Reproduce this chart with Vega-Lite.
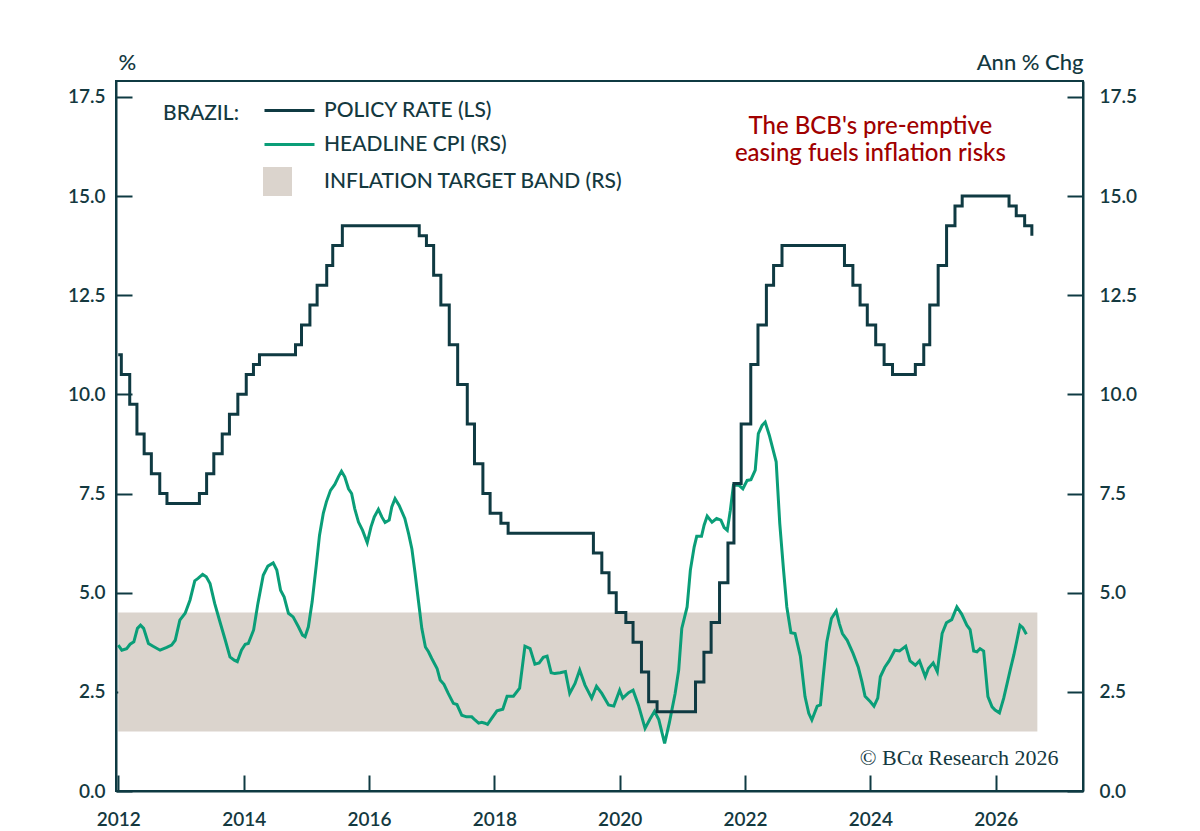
{
  "$schema": "https://vega.github.io/schema/vega-lite/v6.json",
  "width": 967,
  "height": 710,
  "autosize": {"type": "none"},
  "padding": {"left": 116, "top": 81, "right": 117, "bottom": 40},
  "background": "white",
  "config": {
    "font": "Lato",
    "view": {"stroke": "#0f3a42", "strokeWidth": 2},
    "axis": {
      "labelFont": "Lato",
      "labelFontSize": 19,
      "labelFontWeight": 600,
      "labelColor": "#14393f",
      "domainColor": "#0f3a42",
      "domainWidth": 2,
      "tickColor": "#0f3a42",
      "tickWidth": 2,
      "tickSize": -16,
      "grid": false,
      "titleFont": "Lato",
      "titleFontSize": 22,
      "titleFontWeight": 500,
      "titleColor": "#14393f"
    }
  },
  "datasets": {
    "policy": [
      {"date": "2012-01-01", "rate": 11.0},
      {"date": "2012-01-19", "rate": 10.5},
      {"date": "2012-03-08", "rate": 9.75},
      {"date": "2012-04-19", "rate": 9.0},
      {"date": "2012-05-31", "rate": 8.5},
      {"date": "2012-07-12", "rate": 8.0},
      {"date": "2012-08-30", "rate": 7.5},
      {"date": "2012-10-11", "rate": 7.25},
      {"date": "2013-04-18", "rate": 7.5},
      {"date": "2013-05-30", "rate": 8.0},
      {"date": "2013-07-11", "rate": 8.5},
      {"date": "2013-08-29", "rate": 9.0},
      {"date": "2013-10-10", "rate": 9.5},
      {"date": "2013-11-28", "rate": 10.0},
      {"date": "2014-01-16", "rate": 10.5},
      {"date": "2014-02-27", "rate": 10.75},
      {"date": "2014-04-03", "rate": 11.0},
      {"date": "2014-10-30", "rate": 11.25},
      {"date": "2014-12-04", "rate": 11.75},
      {"date": "2015-01-22", "rate": 12.25},
      {"date": "2015-03-05", "rate": 12.75},
      {"date": "2015-04-30", "rate": 13.25},
      {"date": "2015-06-04", "rate": 13.75},
      {"date": "2015-07-30", "rate": 14.25},
      {"date": "2016-10-20", "rate": 14.0},
      {"date": "2016-12-01", "rate": 13.75},
      {"date": "2017-01-12", "rate": 13.0},
      {"date": "2017-02-23", "rate": 12.25},
      {"date": "2017-04-13", "rate": 11.25},
      {"date": "2017-06-01", "rate": 10.25},
      {"date": "2017-07-27", "rate": 9.25},
      {"date": "2017-09-07", "rate": 8.25},
      {"date": "2017-10-26", "rate": 7.5},
      {"date": "2017-12-07", "rate": 7.0},
      {"date": "2018-02-08", "rate": 6.75},
      {"date": "2018-03-22", "rate": 6.5},
      {"date": "2019-08-01", "rate": 6.0},
      {"date": "2019-09-19", "rate": 5.5},
      {"date": "2019-10-31", "rate": 5.0},
      {"date": "2019-12-12", "rate": 4.5},
      {"date": "2020-02-06", "rate": 4.25},
      {"date": "2020-03-19", "rate": 3.75},
      {"date": "2020-05-07", "rate": 3.0},
      {"date": "2020-06-18", "rate": 2.25},
      {"date": "2020-08-06", "rate": 2.0},
      {"date": "2021-03-18", "rate": 2.75},
      {"date": "2021-05-06", "rate": 3.5},
      {"date": "2021-06-17", "rate": 4.25},
      {"date": "2021-08-05", "rate": 5.25},
      {"date": "2021-09-23", "rate": 6.25},
      {"date": "2021-10-28", "rate": 7.75},
      {"date": "2021-12-09", "rate": 9.25},
      {"date": "2022-02-03", "rate": 10.75},
      {"date": "2022-03-17", "rate": 11.75},
      {"date": "2022-05-05", "rate": 12.75},
      {"date": "2022-06-16", "rate": 13.25},
      {"date": "2022-08-04", "rate": 13.75},
      {"date": "2023-08-03", "rate": 13.25},
      {"date": "2023-09-21", "rate": 12.75},
      {"date": "2023-11-02", "rate": 12.25},
      {"date": "2023-12-14", "rate": 11.75},
      {"date": "2024-02-01", "rate": 11.25},
      {"date": "2024-03-21", "rate": 10.75},
      {"date": "2024-05-09", "rate": 10.5},
      {"date": "2024-09-19", "rate": 10.75},
      {"date": "2024-11-07", "rate": 11.25},
      {"date": "2024-12-12", "rate": 12.25},
      {"date": "2025-01-30", "rate": 13.25},
      {"date": "2025-03-20", "rate": 14.25},
      {"date": "2025-05-08", "rate": 14.75},
      {"date": "2025-06-19", "rate": 15.0},
      {"date": "2026-03-19", "rate": 14.75},
      {"date": "2026-04-30", "rate": 14.5},
      {"date": "2026-06-18", "rate": 14.25},
      {"date": "2026-07-30", "rate": 14.0}
    ],
    "cpi": [
      {"date": "2012-01-01", "cpi": 3.68},
      {"date": "2012-01-22", "cpi": 3.55},
      {"date": "2012-02-19", "cpi": 3.59},
      {"date": "2012-03-10", "cpi": 3.70},
      {"date": "2012-04-01", "cpi": 3.76},
      {"date": "2012-04-22", "cpi": 4.10},
      {"date": "2012-05-10", "cpi": 4.18},
      {"date": "2012-05-28", "cpi": 4.10},
      {"date": "2012-06-25", "cpi": 3.72},
      {"date": "2012-07-22", "cpi": 3.65},
      {"date": "2012-09-01", "cpi": 3.55},
      {"date": "2012-10-10", "cpi": 3.62},
      {"date": "2012-11-07", "cpi": 3.68},
      {"date": "2012-11-28", "cpi": 3.80},
      {"date": "2012-12-25", "cpi": 4.31},
      {"date": "2013-01-25", "cpi": 4.48},
      {"date": "2013-02-22", "cpi": 4.81},
      {"date": "2013-03-22", "cpi": 5.30},
      {"date": "2013-04-10", "cpi": 5.36},
      {"date": "2013-05-07", "cpi": 5.46},
      {"date": "2013-05-28", "cpi": 5.40},
      {"date": "2013-06-19", "cpi": 5.23},
      {"date": "2013-07-16", "cpi": 4.73},
      {"date": "2013-08-16", "cpi": 4.26},
      {"date": "2013-09-16", "cpi": 3.80},
      {"date": "2013-10-13", "cpi": 3.38},
      {"date": "2013-11-07", "cpi": 3.30},
      {"date": "2013-11-25", "cpi": 3.26},
      {"date": "2013-12-19", "cpi": 3.55},
      {"date": "2014-01-10", "cpi": 3.70},
      {"date": "2014-01-28", "cpi": 3.72},
      {"date": "2014-02-28", "cpi": 4.06},
      {"date": "2014-03-25", "cpi": 4.73},
      {"date": "2014-04-25", "cpi": 5.44},
      {"date": "2014-05-22", "cpi": 5.67},
      {"date": "2014-06-22", "cpi": 5.75},
      {"date": "2014-07-13", "cpi": 5.57},
      {"date": "2014-08-04", "cpi": 5.06},
      {"date": "2014-08-25", "cpi": 4.89},
      {"date": "2014-09-19", "cpi": 4.48},
      {"date": "2014-10-16", "cpi": 4.39},
      {"date": "2014-11-16", "cpi": 4.14},
      {"date": "2014-12-10", "cpi": 3.93},
      {"date": "2014-12-25", "cpi": 3.89},
      {"date": "2015-01-13", "cpi": 4.14},
      {"date": "2015-02-04", "cpi": 4.77},
      {"date": "2015-02-28", "cpi": 5.69},
      {"date": "2015-03-19", "cpi": 6.45},
      {"date": "2015-04-10", "cpi": 7.00},
      {"date": "2015-04-28", "cpi": 7.29},
      {"date": "2015-05-22", "cpi": 7.58},
      {"date": "2015-06-16", "cpi": 7.73},
      {"date": "2015-07-07", "cpi": 7.92},
      {"date": "2015-07-25", "cpi": 8.06},
      {"date": "2015-08-13", "cpi": 7.92},
      {"date": "2015-09-04", "cpi": 7.62},
      {"date": "2015-09-22", "cpi": 7.50},
      {"date": "2015-10-10", "cpi": 7.12},
      {"date": "2015-11-01", "cpi": 6.78},
      {"date": "2015-11-25", "cpi": 6.57},
      {"date": "2015-12-22", "cpi": 6.26},
      {"date": "2016-01-13", "cpi": 6.66},
      {"date": "2016-02-01", "cpi": 6.91},
      {"date": "2016-02-25", "cpi": 7.10},
      {"date": "2016-03-16", "cpi": 6.91},
      {"date": "2016-04-04", "cpi": 6.77},
      {"date": "2016-04-28", "cpi": 6.83},
      {"date": "2016-05-13", "cpi": 7.16},
      {"date": "2016-06-01", "cpi": 7.37},
      {"date": "2016-06-25", "cpi": 7.20},
      {"date": "2016-07-28", "cpi": 6.87},
      {"date": "2016-08-19", "cpi": 6.49},
      {"date": "2016-09-07", "cpi": 6.11},
      {"date": "2016-09-25", "cpi": 5.52},
      {"date": "2016-10-16", "cpi": 4.77},
      {"date": "2016-11-04", "cpi": 4.10},
      {"date": "2016-11-25", "cpi": 3.63},
      {"date": "2016-12-13", "cpi": 3.51},
      {"date": "2017-01-01", "cpi": 3.34},
      {"date": "2017-02-01", "cpi": 3.09},
      {"date": "2017-02-19", "cpi": 2.80},
      {"date": "2017-03-13", "cpi": 2.69},
      {"date": "2017-04-07", "cpi": 2.46},
      {"date": "2017-05-07", "cpi": 2.21},
      {"date": "2017-05-28", "cpi": 2.18},
      {"date": "2017-06-25", "cpi": 1.91},
      {"date": "2017-07-22", "cpi": 1.87},
      {"date": "2017-08-22", "cpi": 1.87},
      {"date": "2017-09-10", "cpi": 1.79},
      {"date": "2017-10-01", "cpi": 1.71},
      {"date": "2017-10-19", "cpi": 1.73},
      {"date": "2017-11-07", "cpi": 1.71},
      {"date": "2017-11-22", "cpi": 1.68},
      {"date": "2017-12-16", "cpi": 1.83},
      {"date": "2018-01-16", "cpi": 2.02},
      {"date": "2018-02-19", "cpi": 2.06},
      {"date": "2018-03-16", "cpi": 2.39},
      {"date": "2018-04-22", "cpi": 2.39},
      {"date": "2018-05-28", "cpi": 2.59},
      {"date": "2018-06-28", "cpi": 3.65},
      {"date": "2018-07-28", "cpi": 3.59},
      {"date": "2018-08-25", "cpi": 3.20},
      {"date": "2018-09-19", "cpi": 3.23},
      {"date": "2018-10-13", "cpi": 3.37},
      {"date": "2018-11-04", "cpi": 3.40},
      {"date": "2018-11-28", "cpi": 2.98},
      {"date": "2018-12-19", "cpi": 2.96},
      {"date": "2019-01-19", "cpi": 2.98},
      {"date": "2019-02-19", "cpi": 3.01},
      {"date": "2019-03-16", "cpi": 2.46},
      {"date": "2019-04-16", "cpi": 2.71},
      {"date": "2019-05-13", "cpi": 3.05},
      {"date": "2019-06-13", "cpi": 2.67},
      {"date": "2019-07-22", "cpi": 2.34},
      {"date": "2019-08-19", "cpi": 2.64},
      {"date": "2019-09-19", "cpi": 2.46},
      {"date": "2019-10-28", "cpi": 2.17},
      {"date": "2019-11-28", "cpi": 2.14},
      {"date": "2020-01-01", "cpi": 2.54},
      {"date": "2020-01-19", "cpi": 2.34},
      {"date": "2020-02-22", "cpi": 2.48},
      {"date": "2020-03-19", "cpi": 2.54},
      {"date": "2020-04-19", "cpi": 2.17},
      {"date": "2020-05-28", "cpi": 1.58},
      {"date": "2020-06-25", "cpi": 1.81},
      {"date": "2020-07-22", "cpi": 2.01},
      {"date": "2020-08-16", "cpi": 1.80},
      {"date": "2020-09-19", "cpi": 1.20},
      {"date": "2020-10-16", "cpi": 1.71},
      {"date": "2020-11-19", "cpi": 2.45},
      {"date": "2020-12-10", "cpi": 3.05},
      {"date": "2020-12-28", "cpi": 4.10},
      {"date": "2021-01-28", "cpi": 4.64},
      {"date": "2021-02-16", "cpi": 5.57},
      {"date": "2021-03-10", "cpi": 6.15},
      {"date": "2021-03-25", "cpi": 6.42},
      {"date": "2021-04-22", "cpi": 6.42},
      {"date": "2021-05-07", "cpi": 6.70},
      {"date": "2021-05-25", "cpi": 6.93},
      {"date": "2021-06-22", "cpi": 6.78},
      {"date": "2021-07-19", "cpi": 6.87},
      {"date": "2021-08-13", "cpi": 6.83},
      {"date": "2021-09-01", "cpi": 6.64},
      {"date": "2021-09-19", "cpi": 6.57},
      {"date": "2021-10-07", "cpi": 7.08},
      {"date": "2021-10-25", "cpi": 7.71},
      {"date": "2021-11-25", "cpi": 7.71},
      {"date": "2021-12-19", "cpi": 7.62},
      {"date": "2022-01-13", "cpi": 7.83},
      {"date": "2022-02-04", "cpi": 7.85},
      {"date": "2022-03-01", "cpi": 8.09},
      {"date": "2022-03-19", "cpi": 9.01},
      {"date": "2022-04-10", "cpi": 9.22},
      {"date": "2022-04-28", "cpi": 9.30},
      {"date": "2022-05-22", "cpi": 8.97},
      {"date": "2022-07-01", "cpi": 8.30},
      {"date": "2022-07-22", "cpi": 6.74},
      {"date": "2022-08-13", "cpi": 5.57},
      {"date": "2022-09-01", "cpi": 4.64},
      {"date": "2022-09-25", "cpi": 3.99},
      {"date": "2022-10-19", "cpi": 3.97},
      {"date": "2022-11-19", "cpi": 3.40},
      {"date": "2022-12-16", "cpi": 2.38},
      {"date": "2023-01-07", "cpi": 1.96},
      {"date": "2023-01-25", "cpi": 1.79},
      {"date": "2023-02-25", "cpi": 2.14},
      {"date": "2023-03-16", "cpi": 2.17},
      {"date": "2023-04-01", "cpi": 2.88},
      {"date": "2023-04-22", "cpi": 3.76},
      {"date": "2023-05-19", "cpi": 4.35},
      {"date": "2023-06-16", "cpi": 4.54},
      {"date": "2023-07-04", "cpi": 4.22},
      {"date": "2023-07-22", "cpi": 3.97},
      {"date": "2023-08-19", "cpi": 3.80},
      {"date": "2023-09-22", "cpi": 3.47},
      {"date": "2023-10-22", "cpi": 3.13},
      {"date": "2023-11-13", "cpi": 2.75},
      {"date": "2023-12-01", "cpi": 2.39},
      {"date": "2024-01-01", "cpi": 2.25},
      {"date": "2024-01-22", "cpi": 2.14},
      {"date": "2024-02-13", "cpi": 2.34},
      {"date": "2024-02-28", "cpi": 2.88},
      {"date": "2024-03-25", "cpi": 3.12},
      {"date": "2024-04-19", "cpi": 3.28},
      {"date": "2024-05-22", "cpi": 3.55},
      {"date": "2024-06-19", "cpi": 3.53},
      {"date": "2024-07-01", "cpi": 3.57},
      {"date": "2024-07-25", "cpi": 3.65},
      {"date": "2024-08-19", "cpi": 3.28},
      {"date": "2024-09-19", "cpi": 3.17},
      {"date": "2024-10-13", "cpi": 3.28},
      {"date": "2024-11-16", "cpi": 2.88},
      {"date": "2024-12-04", "cpi": 3.09},
      {"date": "2025-01-01", "cpi": 3.23},
      {"date": "2025-01-25", "cpi": 3.01},
      {"date": "2025-02-22", "cpi": 3.97},
      {"date": "2025-03-19", "cpi": 4.24},
      {"date": "2025-04-19", "cpi": 4.32},
      {"date": "2025-05-19", "cpi": 4.64},
      {"date": "2025-06-16", "cpi": 4.46},
      {"date": "2025-07-16", "cpi": 4.18},
      {"date": "2025-08-04", "cpi": 4.07},
      {"date": "2025-08-25", "cpi": 3.53},
      {"date": "2025-09-13", "cpi": 3.51},
      {"date": "2025-10-01", "cpi": 3.59},
      {"date": "2025-10-22", "cpi": 3.53},
      {"date": "2025-11-16", "cpi": 2.38},
      {"date": "2025-12-10", "cpi": 2.12},
      {"date": "2025-12-28", "cpi": 2.04},
      {"date": "2026-01-22", "cpi": 1.97},
      {"date": "2026-02-16", "cpi": 2.34},
      {"date": "2026-03-10", "cpi": 2.75},
      {"date": "2026-03-28", "cpi": 3.09},
      {"date": "2026-04-16", "cpi": 3.43},
      {"date": "2026-05-04", "cpi": 3.80},
      {"date": "2026-05-22", "cpi": 4.18},
      {"date": "2026-06-07", "cpi": 4.12},
      {"date": "2026-06-28", "cpi": 3.95}
    ],
    "band": [
      {"start": "2012-01-01", "end": "2026-08-31", "low": 1.5, "high": 4.5}
    ],
    "notes": [
      {"date": "2024-01-01", "value": 16.57, "text": "The BCB's pre-emptive\neasing fuels inflation risks", "kind": "note"},
      {"date": "2027-01-01", "value": 0.65, "text": "© BCα Research 2026", "kind": "credit"}
    ]
  },
  "resolve": {"scale": {"y": "independent"}},
  "layer": [
    {
      "data": {"name": "band"},
      "mark": {"type": "rect"},
      "encoding": {
        "x": {
          "field": "start",
          "type": "temporal",
          "scale": {
            "type": "utc",
            "nice": false,
            "domain": [
              {"year": 2011, "month": 12, "date": 19, "utc": true},
              {"year": 2027, "month": 5, "date": 24, "utc": true}
            ]
          },
          "axis": {
            "orient": "bottom",
            "title": null,
            "format": "%Y",
            "formatType": "utc",
            "labelPadding": 35,
            "values": [
              {"year": 2012, "utc": true}, {"year": 2014, "utc": true},
              {"year": 2016, "utc": true}, {"year": 2018, "utc": true},
              {"year": 2020, "utc": true}, {"year": 2022, "utc": true},
              {"year": 2024, "utc": true}, {"year": 2026, "utc": true}
            ]
          }
        },
        "x2": {"field": "end"},
        "y": {"field": "low", "type": "quantitative", "scale": {"domain": [0, 17.9], "nice": false}, "axis": null},
        "y2": {"field": "high"},
        "color": {
          "datum": "INFLATION TARGET BAND (RS)",
          "type": "nominal",
          "scale": {
            "domain": ["POLICY RATE (LS)", "HEADLINE CPI (RS)", "INFLATION TARGET BAND (RS)"],
            "range": ["#0f3a42", "#0a9e78", "#dbd4cd"]
          },
          "legend": {
            "title": "BRAZIL:",
            "orient": "none",
            "legendX": 47,
            "legendY": 13,
            "titleOrient": "left",
            "titlePadding": 24,
            "titleFontSize": 21,
            "titleFontWeight": 500,
            "titleColor": "#14393f",
            "titleFont": "Lato",
            "labelFont": "Lato",
            "labelFontSize": 21,
            "labelFontWeight": 500,
            "labelColor": "#14393f",
            "labelLimit": 600,
            "labelOffset": 28,
            "symbolType": "stroke",
            "symbolSize": 900,
            "symbolStrokeWidth": 3,
            "rowPadding": 7,
            "padding": 0,
            "encode": {
              "title": {
                "update": {"dy": {"value": -33}}
              },
              "symbols": {
                "update": {
                  "shape": {"signal": "datum.value == 'INFLATION TARGET BAND (RS)' ? 'M-1,-0.867H0.733V0.867H-1Z' : 'M-1,0H2.333'"},
                  "fill": {"signal": "datum.value == 'INFLATION TARGET BAND (RS)' ? '#dbd4cd' : 'transparent'"},
                  "stroke": {"signal": "datum.value == 'INFLATION TARGET BAND (RS)' ? 'transparent' : (datum.value == 'POLICY RATE (LS)' ? '#0f3a42' : '#0a9e78')"},
                  "opacity": {"value": 1}
                }
              }
            }
          }
        }
      }
    },
    {
      "data": {"name": "cpi"},
      "mark": {"type": "line", "strokeWidth": 3, "interpolate": "linear"},
      "encoding": {
        "x": {"field": "date", "type": "temporal"},
        "y": {
          "field": "cpi",
          "type": "quantitative",
          "scale": {"domain": [0, 17.9], "nice": false},
          "axis": {
            "orient": "right",
            "values": [0, 2.5, 5, 7.5, 10, 12.5, 15, 17.5],
            "format": ".1f",
            "labelPadding": 32,
            "title": "Ann % Chg",
            "titleAngle": 0,
            "titleX": 0,
            "titleY": -12,
            "titleAlign": "right",
            "titleBaseline": "alphabetic"
          }
        },
        "color": {"datum": "HEADLINE CPI (RS)", "type": "nominal"}
      }
    },
    {
      "data": {"name": "policy"},
      "mark": {"type": "line", "strokeWidth": 3, "interpolate": "step-after"},
      "encoding": {
        "x": {"field": "date", "type": "temporal"},
        "y": {
          "field": "rate",
          "type": "quantitative",
          "scale": {"domain": [0, 17.9], "nice": false},
          "axis": {
            "orient": "left",
            "values": [0, 2.5, 5, 7.5, 10, 12.5, 15, 17.5],
            "format": ".1f",
            "labelPadding": 27,
            "title": "%",
            "titleAngle": 0,
            "titleX": 2,
            "titleY": -12,
            "titleAlign": "left",
            "titleBaseline": "alphabetic"
          }
        },
        "color": {"datum": "POLICY RATE (LS)", "type": "nominal"}
      }
    },
    {
      "data": {"name": "notes"},
      "transform": [{"filter": "datum.kind == 'note'"}],
      "mark": {"type": "text", "align": "center", "baseline": "alphabetic", "font": "Lato", "fontSize": 24, "fontWeight": 500, "color": "#a00000", "lineBreak": "\n", "lineHeight": 27},
      "encoding": {
        "x": {"field": "date", "type": "temporal"},
        "y": {"field": "value", "type": "quantitative", "scale": {"domain": [0, 17.9], "nice": false}, "axis": null},
        "text": {"field": "text"}
      }
    },
    {
      "data": {"name": "notes"},
      "transform": [{"filter": "datum.kind == 'credit'"}],
      "mark": {"type": "text", "align": "right", "baseline": "alphabetic", "font": "Liberation Serif", "fontSize": 22, "color": "#14393f"},
      "encoding": {
        "x": {"field": "date", "type": "temporal"},
        "y": {"field": "value", "type": "quantitative", "scale": {"domain": [0, 17.9], "nice": false}, "axis": null},
        "text": {"field": "text"}
      }
    }
  ]
}
